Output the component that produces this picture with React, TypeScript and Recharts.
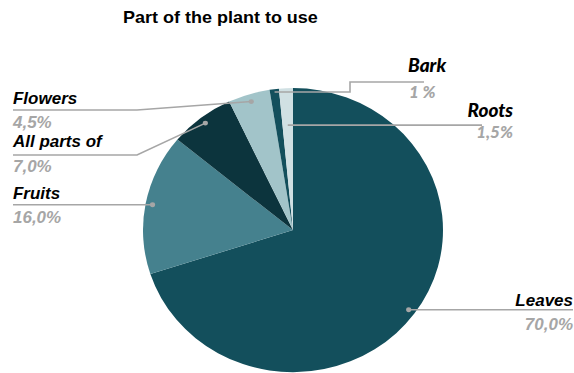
import { PieChart, Pie, Cell } from 'recharts';

const categories = ['Leaves', 'Fruits', 'All parts of', 'Flowers', 'Bark', 'Roots'];
const shares = [70, 16, 7, 4.5, 1, 1.5];
const shareLabels = ['70,0%', '16,0%', '7,0%', '4,5%', '1 %', '1,5%'];

const colors = ['#134f5c', '#45818e', '#0c343d', '#a2c4c9', '#134f5c', '#d0e0e3'];

const data = categories.map((name, i) => ({ name, value: shares[i], pct: shareLabels[i] }));

// the reference is a bit squashed vertically, so the whole chart is drawn taller and scaled down
const S = 0.947;
const W = 574;
const H = Math.round(373 / S);
const RAD = Math.PI / 180;
const GREY = '#a6a6a6';

const ARIAL = '"Liberation Sans", Arial, sans-serif';
const CAL = 'Lato, "Open Sans", sans-serif';

const y = (v: number) => v / S;

// label placement (screen px), per slice
const layout: Record<string, any> = {
  Leaves: { dotR: 143, side: 'right', x: 573, nameY: 306, pctY: 330 },
  Fruits: { dotR: 143, side: 'left', x: 13, nameY: 199, pctY: 223 },
  'All parts of': { dotR: 143, side: 'left', x: 13, nameY: 147, pctY: 172, lineY: 155, elbow: 137 },
  Flowers: { dotR: 142, side: 'left', x: 13, nameY: 104, pctY: 128, lineY: 110, elbow: 137 },
  Bark: { dotR: 147, side: 'bark', x: 408, nameY: 72, pctY: 98 },
  Roots: { dotR: 111, side: 'roots', x: 513, nameY: 117, pctY: 138 },
};

const renderLabel = (props: any) => {
  const { cx, cy, midAngle, index } = props;
  const name = categories[index];
  const pct = shareLabels[index];
  const l = layout[name];
  const px = cx + l.dotR * Math.cos(-midAngle * RAD);
  const py = cy + l.dotR * Math.sin(-midAngle * RAD);
  const big = { fontFamily: ARIAL, fontSize: 17, fontWeight: 'bold', fontStyle: 'italic' } as const;
  const small = { fontFamily: CAL, fontSize: 19, fontWeight: 900, fontStyle: 'italic' } as const;
  const smallPct = { ...small, fontSize: 17 };

  if (l.side === 'right') {
    return (
      <g key={name}>
        <line x1={px} y1={py} x2={l.x} y2={py} stroke={GREY} strokeWidth={1.6} />
        <circle cx={px} cy={py} r={2.6} fill={GREY} />
        <text x={l.x} y={y(l.nameY)} textAnchor="end" fill="#000" {...big}>{name}</text>
        <text x={l.x} y={y(l.pctY)} textAnchor="end" fill={GREY} {...big}>{pct}</text>
      </g>
    );
  }
  if (l.side === 'left') {
    const pts = l.lineY != null
      ? `${l.x},${y(l.lineY)} ${l.elbow},${y(l.lineY)} ${px},${py}`
      : `${l.x},${py} ${px},${py}`;
    return (
      <g key={name}>
        <polyline points={pts} fill="none" stroke={GREY} strokeWidth={1.6} />
        <circle cx={px} cy={py} r={2.6} fill={GREY} />
        <text x={l.x} y={y(l.nameY)} fill="#000" {...big}>{name}</text>
        <text x={l.x} y={y(l.pctY)} fill={GREY} {...big}>{pct}</text>
      </g>
    );
  }
  if (l.side === 'bark') {
    const pts = `424,${y(82)} 350,${y(82)} 350,${py} ${px},${py}`;
    return (
      <g key={name}>
        <polyline points={pts} fill="none" stroke={GREY} strokeWidth={1.6} />
        <text x={l.x} y={y(l.nameY)} fill="#000" {...small}>{name}</text>
        <text x={l.x + 1} y={y(l.pctY)} fill={GREY} {...smallPct}>{pct}</text>
      </g>
    );
  }
  return (
    <g key={name}>
      <line x1={482} y1={py} x2={px} y2={py} stroke={GREY} strokeWidth={1.6} />
      <text x={l.x} y={y(l.nameY)} textAnchor="end" fill="#000" {...small}>{name}</text>
      <text x={l.x} y={y(l.pctY)} textAnchor="end" fill={GREY} {...smallPct}>{pct}</text>
    </g>
  );
};

export default function App() {
  return (
    <div style={{ position: 'absolute', left: 0, top: 0, width: W, height: 373, overflow: 'hidden', background: '#fff' }}>
      <div style={{ transform: `scaleY(${S})`, transformOrigin: '0 0', width: W, height: H }}>
        <PieChart width={W} height={H} margin={{ top: 0, right: 0, bottom: 0, left: 0 }}>
          <text x={123} y={y(23)} fontFamily={ARIAL} fontSize={18} fontWeight="bold" fill="#000">
            Part of the plant to use
          </text>
          <Pie
            data={data}
            dataKey="value"
            nameKey="name"
            cx={293}
            cy={243}
            outerRadius={150}
            startAngle={90}
            endAngle={-270}
            stroke="none"
            label={renderLabel}
            labelLine={false}
            isAnimationActive={false}
          >
            {data.map((d, i) => (
              <Cell key={`cell-${i}`} fill={colors[i]} />
            ))}
          </Pie>
        </PieChart>
      </div>
    </div>
  );
}
